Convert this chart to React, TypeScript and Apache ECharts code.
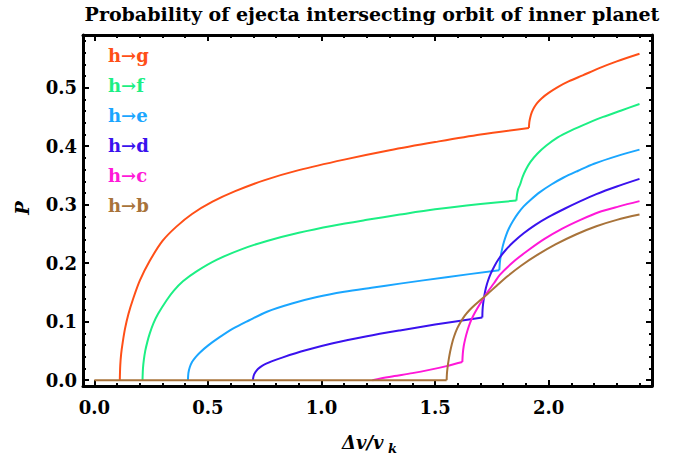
import React, { useEffect, useRef } from "react";
import * as echarts from "echarts";

// ---- data ----
const gPre = [[0.112,0],[0.114,0.025],[0.118,0.045],[0.125,0.065],[0.135,0.088],[0.15,0.113],[0.169,0.137],[0.2,0.17],[0.244,0.204],[0.3,0.238],[0.36,0.262],[0.43,0.284],[0.52,0.305],[0.62,0.323],[0.75,0.342],[0.9,0.359],[1.1,0.377],[1.3,0.393],[1.5,0.407],[1.7,0.42],[1.913,0.431]];
const gPost = [[1.913,0.431],[1.915,0.441],[1.919,0.449],[1.926,0.458],[1.936,0.466],[1.95,0.474],[1.97,0.482],[2.0,0.491],[2.04,0.501],[2.09,0.511],[2.15,0.521],[2.22,0.533],[2.3,0.545],[2.4,0.558]];
const fPre = [[0.212,0],[0.214,0.02],[0.218,0.035],[0.224,0.05],[0.233,0.065],[0.244,0.08],[0.26,0.097],[0.28,0.113],[0.319,0.137],[0.35,0.153],[0.39,0.169],[0.45,0.186],[0.54,0.206],[0.65,0.224],[0.76,0.238],[0.9,0.252],[1.05,0.264],[1.2,0.274],[1.345,0.283],[1.5,0.292],[1.7,0.301],[1.858,0.307]];
const fPost = [[1.858,0.307],[1.861,0.318],[1.866,0.327],[1.874,0.334],[1.885,0.347],[1.9,0.36],[1.92,0.373],[1.95,0.387],[1.99,0.401],[2.04,0.415],[2.1,0.427],[2.17,0.439],[2.24,0.45],[2.32,0.461],[2.4,0.472]];
const ePre = [[0.412,0],[0.414,0.012],[0.42,0.022],[0.43,0.031],[0.445,0.039],[0.464,0.047],[0.5,0.059],[0.55,0.073],[0.61,0.088],[0.68,0.102],[0.76,0.117],[0.87,0.131],[0.98,0.142],[1.1,0.151],[1.22,0.158],[1.345,0.165],[1.55,0.176],[1.783,0.188]];
const ePost = [[1.783,0.188],[1.785,0.2],[1.789,0.212],[1.795,0.224],[1.803,0.236],[1.813,0.248],[1.826,0.26],[1.843,0.272],[1.865,0.285],[1.89,0.297],[1.92,0.308],[1.96,0.321],[2.01,0.334],[2.064,0.346],[2.13,0.358],[2.2,0.37],[2.3,0.383],[2.4,0.394]];
const dPre = [[0.698,0],[0.701,0.007],[0.708,0.013],[0.72,0.019],[0.74,0.025],[0.78,0.032],[0.83,0.039],[0.93,0.051],[1.05,0.063],[1.2,0.075],[1.345,0.085],[1.5,0.095],[1.708,0.107]];
const dPost = [[1.708,0.107],[1.709,0.12],[1.712,0.132],[1.717,0.145],[1.724,0.158],[1.733,0.17],[1.745,0.182],[1.76,0.194],[1.78,0.207],[1.81,0.222],[1.845,0.236],[1.89,0.251],[1.94,0.265],[2.0,0.279],[2.07,0.293],[2.14,0.306],[2.21,0.318],[2.3,0.331],[2.4,0.344]];
const cPre = [[1.224,0],[1.26,0.003],[1.32,0.007],[1.4,0.012],[1.48,0.018],[1.55,0.024],[1.62,0.031]];
const cPost = [[1.62,0.031],[1.622,0.045],[1.626,0.058],[1.633,0.071],[1.642,0.084],[1.654,0.098],[1.668,0.11],[1.685,0.122],[1.705,0.135],[1.73,0.15],[1.76,0.166],[1.785,0.18],[1.85,0.204],[1.91,0.222],[1.98,0.241],[2.06,0.259],[2.14,0.274],[2.22,0.287],[2.31,0.297],[2.4,0.306]];
const bZero = [[0,0],[1.551,0]];
const bRise = [[1.551,0],[1.552,0.01],[1.555,0.022],[1.56,0.035],[1.566,0.048],[1.574,0.062],[1.584,0.075],[1.597,0.088],[1.612,0.099],[1.63,0.11],[1.652,0.12],[1.676,0.129],[1.7,0.137],[1.73,0.147],[1.77,0.161],[1.82,0.178],[1.88,0.196],[1.95,0.214],[2.03,0.232],[2.12,0.249],[2.21,0.263],[2.3,0.274],[2.4,0.283]];

const legendNames = ["h→g", "h→f", "h→e", "h→d", "h→c", "h→b"];
const colors = ["#ff4f17", "#1cef84", "#1aa6ff", "#3a12ee", "#ff18d8", "#a8733a"];

const xMajor = [0, 0.5, 1.0, 1.5, 2.0];
const xMinor = [0.1,0.2,0.3,0.4,0.6,0.7,0.8,0.9,1.1,1.2,1.3,1.4,1.6,1.7,1.8,1.9,2.1,2.2,2.3,2.4];
const yMajor = [0, 0.1, 0.2, 0.3, 0.4, 0.5];
const yMinor = [0.02,0.04,0.06,0.08,0.12,0.14,0.16,0.18,0.22,0.24,0.26,0.28,0.32,0.34,0.36,0.38,0.42,0.44,0.46,0.48,0.52,0.54,0.56,0.58];

const X_MIN = -0.05, X_MAX = 2.455, Y_MIN = -0.01, Y_MAX = 0.59;
const SERIF = "DejaVu Serif";

export default function App() {
  const ref = useRef<HTMLDivElement>(null);
  useEffect(() => {
    if (!ref.current) return;
    const chart = echarts.init(ref.current, undefined, { renderer: "svg" });

    const mkX = (pos: string, major: boolean, labels: boolean) => ({
      type: "value", position: pos, min: X_MIN, max: X_MAX,
      axisLine: { show: major, onZero: false, lineStyle: { color: "#000", width: 3 } },
      axisTick: { show: true, inside: true, length: major ? 6 : 3, customValues: major ? xMajor : xMinor, lineStyle: { color: "#000", width: 2 } },
      axisLabel: labels ? { show: true, customValues: xMajor, margin: 12, color: "#000", fontFamily: SERIF, fontWeight: "bold", fontSize: 18, formatter: (v: number) => v.toFixed(1) } : { show: false },
      splitLine: { show: false },
    });
    const mkY = (pos: string, major: boolean, labels: boolean) => ({
      type: "value", position: pos, min: Y_MIN, max: Y_MAX,
      axisLine: { show: major, onZero: false, lineStyle: { color: "#000", width: 3 } },
      axisTick: { show: true, inside: true, length: major ? 6 : 3, customValues: major ? yMajor : yMinor, lineStyle: { color: "#000", width: 2 } },
      axisLabel: labels ? { show: true, customValues: yMajor, margin: 6, color: "#000", fontFamily: SERIF, fontWeight: "bold", fontSize: 18, formatter: (v: number) => v.toFixed(1) } : { show: false },
      splitLine: { show: false },
    });

    const segs: [number[][], number][] = [
      [gPre, 0], [gPost, 0], [fPre, 1], [fPost, 1], [ePre, 2], [ePost, 2],
      [dPre, 3], [dPost, 3], [cPre, 4], [cPost, 4], [bZero, 5], [bRise, 5],
    ];

    const option: any = {
      animation: false,
      backgroundColor: "#fff",
      grid: { left: 83, right: 31, top: 35, bottom: 72 },
      xAxis: [mkX("bottom", true, true), mkX("bottom", false, false), mkX("top", true, false), mkX("top", false, false)],
      yAxis: [mkY("left", true, true), mkY("left", false, false), mkY("right", true, false), mkY("right", false, false)],
      series: segs.map(([d, ci], i) => ({
        type: "line", name: legendNames[ci], data: d, xAxisIndex: 0, yAxisIndex: 0,
        showSymbol: false, smooth: 0.3,
        lineStyle: { color: colors[ci], width: 2 }, z: 2 + i,
      })),
      graphic: [
        { type: "text", x: 372, y: 14, style: { text: "Probability of ejecta intersecting orbit of inner planet", font: `bold 19px '${SERIF}'`, fill: "#000", align: "center", verticalAlign: "middle" } },
        ...legendNames.map((n, i) => ({
          type: "text", x: 108, y: 55 + i * 30, style: { text: n, font: `bold 18px '${SERIF}'`, fill: colors[i], verticalAlign: "middle" },
        })),
        { type: "text", x: 22, y: 208, rotation: Math.PI / 2, style: { text: "P", font: `italic bold 18px '${SERIF}'`, fill: "#000", align: "center", verticalAlign: "middle" } },
        { type: "text", x: 342, y: 442, style: { text: "Δv/v", font: `italic bold 18px '${SERIF}'`, fill: "#000", verticalAlign: "middle" } },
        { type: "text", x: 388, y: 448, style: { text: "k", font: `italic bold 13px '${SERIF}'`, fill: "#000", verticalAlign: "middle" } },
      ],
    };
    chart.setOption(option);
    return () => chart.dispose();
  }, []);
  return <div ref={ref} style={{ position: "absolute", left: 0, top: 0, width: 683, height: 458 }} />;
}
